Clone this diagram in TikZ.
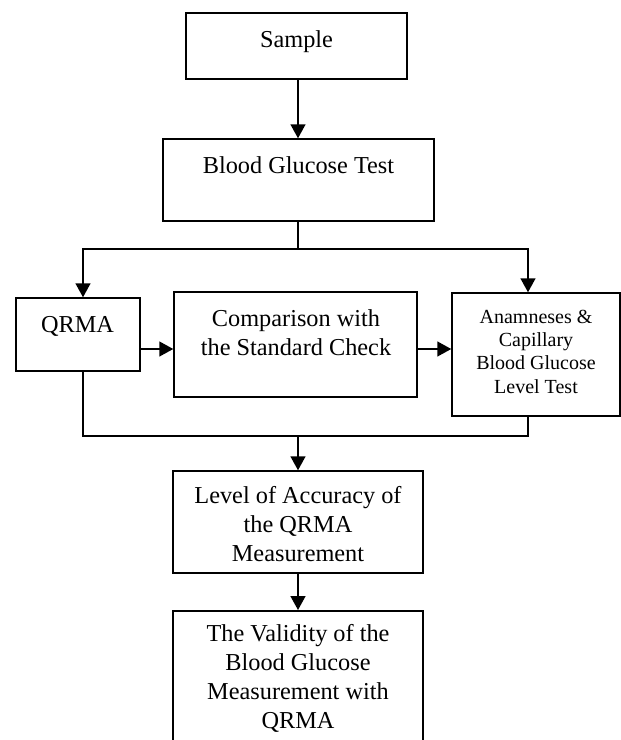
\documentclass[tikz,border=0pt]{standalone}
\usepackage{fontspec}
\setmainfont{Liberation Serif}
\usetikzlibrary{arrows.meta}
\begin{document}
\begin{tikzpicture}[x=1pt,y=-1pt,
  box/.style={draw,line width=1.5pt,inner sep=0pt},
  txt/.style={inner sep=0pt,anchor=base,align=center,font=\fontsize{24.3}{28.7}\selectfont},
  smalltxt/.style={txt,font=\fontsize{20}{23.3}\selectfont},
  ln/.style={line width=1.5pt},
  arr/.style={line width=1.5pt,-{Triangle[width=15pt,length=14pt]}}]
\useasboundingbox (0,0) rectangle (621,740);
\clip (0,0) rectangle (621,740);
% boxes
\node[box,minimum width=221pt,minimum height=66pt] (sample) at (296.5,46) {};
\node[box,minimum width=271pt,minimum height=82pt] (bgt) at (298.5,180) {};
\node[box,minimum width=124pt,minimum height=73pt] (qrma) at (78,334.5) {};
\node[box,minimum width=243pt,minimum height=105pt] (comp) at (295.5,344.5) {};
\node[box,minimum width=168pt,minimum height=123pt] (anam) at (536,354.5) {};
\node[box,minimum width=250pt,minimum height=102pt] (level) at (298,522) {};
\node[box,minimum width=250pt,minimum height=180pt,anchor=north] (valid) at (298,610) {};
% texts (anchor = baseline of the last line)
\node[txt] (tsample) at (296.5,47) {Sample};
\node[txt] (tbgt) at (298.5,173) {Blood Glucose Test};
\node[txt] (tqrma) at (77.5,332) {QRMA};
\node[txt] (tcomp) at (296,355) {Comparison with\\the Standard Check};
\node[smalltxt] (tanam) at (536,393) {Anamneses \&\\Capillary\\Blood Glucose\\Level Test};
\node[txt] (tlevel) at (298,561) {Level of Accuracy of\\the QRMA\\Measurement};
\node[txt] (tvalid) at (298,728) {The Validity of the\\Blood Glucose\\Measurement with\\QRMA};
% helper coordinates
\coordinate (spine) at (298,0);
\coordinate (st) at (298,249);
\coordinate (sl) at (83,249);
\coordinate (sr) at (528,249);
\coordinate (bl) at (83,436);
\coordinate (br) at (528,436);
\coordinate (bm) at (298,436);
\coordinate (row) at (0,349);
% connectors
\draw[arr] (spine |- sample.south) -- (spine |- bgt.north);
\draw[ln] (spine |- bgt.south) -- (st);
\draw[arr] (st) -| (sl |- qrma.north);
\draw[arr] (st) -| (sr |- anam.north);
\draw[arr] (qrma.east |- row) -- (comp.west |- row);
\draw[arr] (comp.east |- row) -- (anam.west |- row);
\draw[ln] (bl |- qrma.south) -- (bl) -- (br) -- (br |- anam.south);
\draw[arr] (bm) -- (bm |- level.north);
\draw[arr] (spine |- level.south) -- (spine |- valid.north);
\end{tikzpicture}
\end{document}
